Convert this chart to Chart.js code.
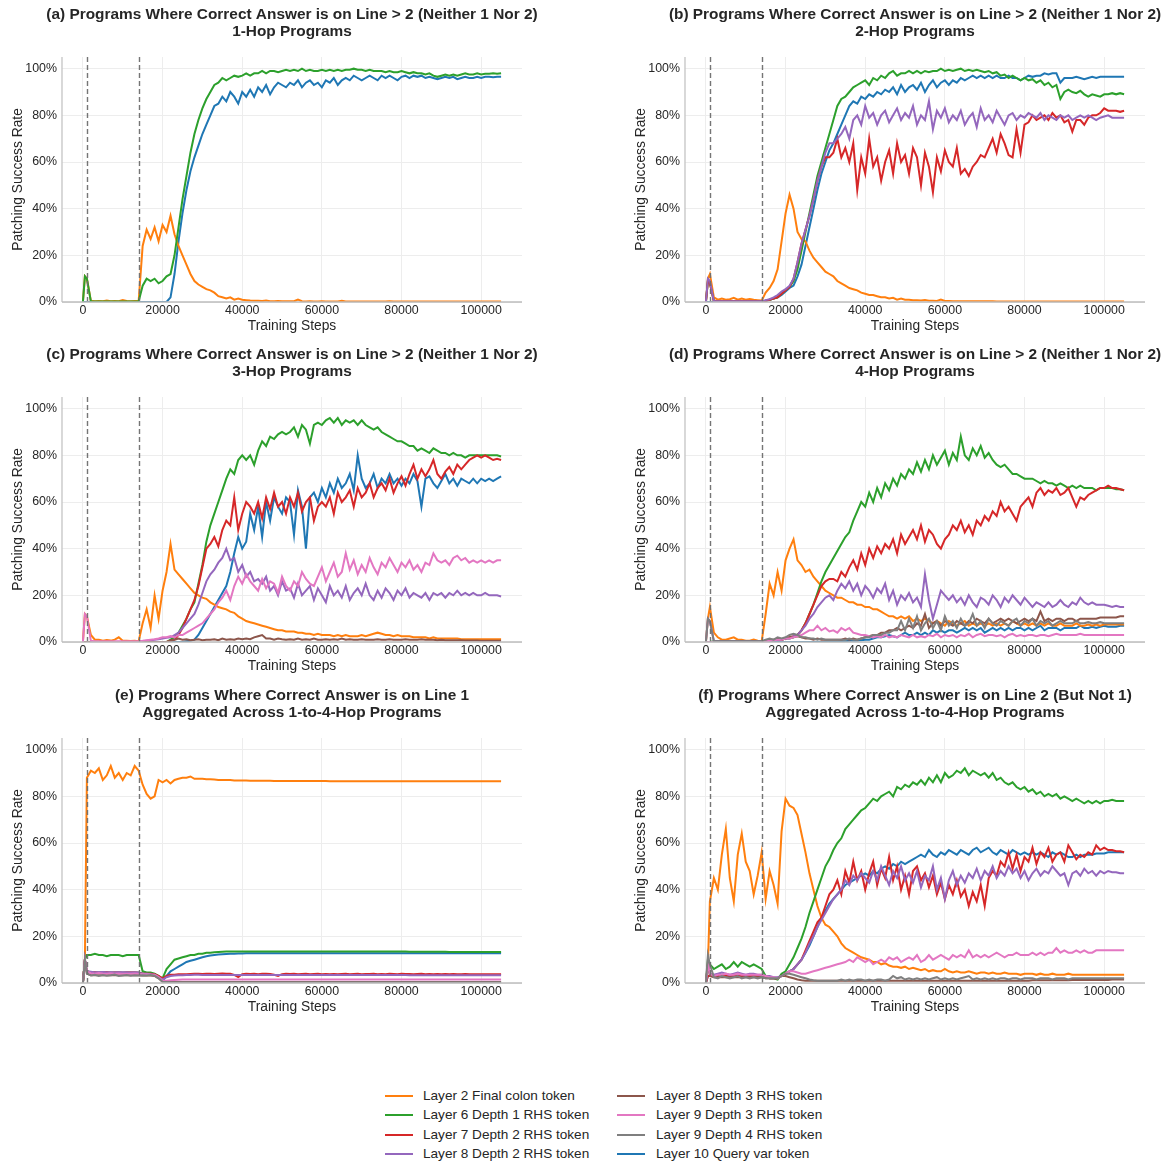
<!DOCTYPE html>
<html>
<head>
<meta charset="utf-8">
<script src="https://cdn.jsdelivr.net/npm/chart.js@4.4.1/dist/chart.umd.min.js"></script>
<style>
html,body{margin:0;padding:0;background:#fff;}
body{width:1168px;height:1163px;overflow:hidden;position:relative;font-family:"Liberation Sans",Arial,sans-serif;}
canvas{position:absolute;}
.li{position:absolute;height:20px;line-height:20px;font-size:13.6px;color:#262626;white-space:nowrap;}
.ln{position:absolute;width:28px;height:2px;}
#err{position:absolute;left:10px;top:1040px;color:red;font-size:12px;}
</style>
</head>
<body>
<canvas id="ca" width="544" height="340" style="left:0px;top:0px"></canvas>
<canvas id="cb" width="544" height="340" style="left:623px;top:0px"></canvas>
<canvas id="cc" width="544" height="340" style="left:0px;top:340px"></canvas>
<canvas id="cd" width="544" height="340" style="left:623px;top:340px"></canvas>
<canvas id="ce" width="544" height="340" style="left:0px;top:681px"></canvas>
<canvas id="cf" width="544" height="340" style="left:623px;top:681px"></canvas>
<div id="legend"></div>
<div id="err"></div>
<script>
// ---------- x positions (training steps) ----------
const steps = [0,500,1000,
2000,3000,4000,5000,6000,7000,8000,9000,10000,11000,
12000,13000,14000,15000,16000,17000,18000,19000,20000,21000,
22000,23000,24000,25000,26000,27000,28000,29000,30000,31000,
32000,33000,34000,35000,36000,37000,38000,39000,40000,41000,
42000,43000,44000,45000,46000,47000,48000,49000,50000,51000,
52000,53000,54000,55000,56000,57000,58000,59000,60000,61000,
62000,63000,64000,65000,66000,67000,68000,69000,70000,71000,
72000,73000,74000,75000,76000,77000,78000,79000,80000,81000,
82000,83000,84000,85000,86000,87000,88000,89000,90000,91000,
92000,93000,94000,95000,96000,97000,98000,99000,100000,101000,
102000,103000,104000,105000];

const xTickValues = [0,20000,40000,60000,80000,100000];
const yTickValues = [0,20,40,60,80,100];
const phaseLines = [1000,14000];

const seriesNames = ['Layer 2 Final colon token','Layer 6 Depth 1 RHS token','Layer 7 Depth 2 RHS token','Layer 8 Depth 2 RHS token','Layer 8 Depth 3 RHS token','Layer 9 Depth 3 RHS token','Layer 9 Depth 4 RHS token','Layer 10 Query var token'];
const seriesKeys = ['orange','green','red','purple','brown','pink','gray','blue'];
const seriesColors = ['#ff7f0e','#2ca02c','#d62728','#9467bd','#8c564b','#e377c2','#7f7f7f','#1f77b4'];

const titlesA = ['(a) Programs Where Correct Answer is on Line > 2 (Neither 1 Nor 2)','1-Hop Programs'];
const titlesB = ['(b) Programs Where Correct Answer is on Line > 2 (Neither 1 Nor 2)','2-Hop Programs'];
const titlesC = ['(c) Programs Where Correct Answer is on Line > 2 (Neither 1 Nor 2)','3-Hop Programs'];
const titlesD = ['(d) Programs Where Correct Answer is on Line > 2 (Neither 1 Nor 2)','4-Hop Programs'];
const titlesE = ['(e) Programs Where Correct Answer is on Line 1','Aggregated Across 1-to-4-Hop Programs'];
const titlesF = ['(f) Programs Where Correct Answer is on Line 2 (But Not 1)','Aggregated Across 1-to-4-Hop Programs'];

// ---------- (a) 1-Hop ----------
const a_orange = [0,11,10,
0.5,0.3,0.4,0.3,0.6,0.3,0.4,0.3,0.8,0.4,
0.3,0.4,0.5,24,31,27,32,26,33,30,
37,29,24,20,16,12,9,7.5,6.5,5.5,
5,4,2.5,2,1.5,2,1,1.5,1,0.8,
0.6,0.5,0.5,0.4,0.6,0.3,0.3,0.4,0.3,0.3,
0.3,0.3,1,0.3,0.2,0.3,0.2,0.2,0.3,0.2,
0.2,0.2,0.2,0.5,0.2,0.2,0.2,0.2,0.2,0.2,
0.2,0.2,0.2,0.2,0.2,0.3,0.2,0.2,0.2,0.2,
0.2,0.2,0.2,0.2,0.2,0.2,0.2,0.2,0.2,0.2,
0.2,0.2,0.2,0.2,0.2,0.2,0.2,0.2,0.2,0.2,
0.2,0.2,0.2,0.2];
const a_green = [0,11,10,
0.2,0.2,0.2,0.2,0.2,0.2,0.2,0.2,0.2,0.2,
0.2,0.2,0.3,7,10,9,10,8,9,11,
12,20,32,44,54,64,72,78,83,87,
90,93,94,96,95,96,97,96.5,97,98,
97,98,98,99,98,99,99,98.5,99,99.5,
99,99.5,99,100,99,99.5,99,99,99.5,99,
99.5,99,99.5,99,99.5,99.5,100,99.5,99.5,99,
99.5,99,99,99,98.5,99,98.5,98.5,99,98.5,
98,98.5,98,98,97.5,98,97,96.5,97,97.5,
97,97.5,97,97.5,98,97.5,97.5,98,97.5,97.8,
97.8,98,97.8,98];
const a_blue = [0,0,0,
0,0,0,0,0,0,0,0,0,0,
0,0,0,0,0,0,0,0,0,0,
2,12,26,38,48,56,62,67,72,76,
80,84,85,88,86,90,88,85,90,88,
91,88,92,90,93,89,92,94,93,92,
94,93,95,92,94,95,93,94,92,95,
94,96,93,95,96,95,97,96,95,96,
97,96,95,97,96,97,96,95,96.5,97,
96,97,96.5,97,96,96.5,96,95.5,96,96.5,
96,96.5,95.5,96,96.5,96,96,96.5,96,96.5,
96.5,96.3,96.5,96.5];

// ---------- (b) 2-Hop ----------
const b_orange = [0,10,12,
2,1,1.5,1,1.2,1.8,1,1.5,1,1.3,
1,0.8,0.6,4,6,9,14,26,38,46,
40,30,27,26,22,19,17,15,13,12,
11,9,8,7,6,5.5,5,4,3.5,3,
3,2.5,2,2,1.5,1.8,1,1.5,1,1,
0.8,0.8,0.6,0.8,0.5,0.5,0.4,1,0.4,0.4,
0.3,0.3,0.3,0.3,0.3,0.3,0.3,0.3,0.3,0.3,
0.3,0.2,0.2,0.2,0.2,0.2,0.2,0.2,0.2,0.2,
0.2,0.2,0.2,0.2,0.2,0.2,0.2,0.2,0.2,0.2,
0.2,0.2,0.2,0.2,0.2,0.2,0.2,0.2,0.2,0.2,
0.2,0.2,0.2,0.2];
const b_green = [0,9,8,
0.3,0.3,0.3,0.3,0.3,0.3,0.3,0.3,0.3,0.3,
0.3,0.3,0.3,0.5,1,1.5,2,3.5,5,6.5,
9,14,22,30,38,46,54,60,66,72,
78,84,87,88,90,92,93,94,95,93,
96,95,97,96,98,99,97,98,98,99,
98,99,98,99,98.5,99,99,100,99,99.5,
99,99.5,100,99,99.5,99,99.5,99,98.5,99,
98,98.5,97,97.5,96,97,96,95,96,95,
95.5,94,95,93,94,92,93,87,90,91,
90,89.5,90.5,89,88,89,88.5,88,89,89,
89.5,89,89.5,89];
const b_red = [0,9,8,
0.3,0.3,0.3,0.3,0.3,0.3,0.3,0.3,0.3,0.3,
0.3,0.3,0.3,0.5,1,1.5,2,3.5,5,6.5,
10,17,25,31,37,44,52,58,62,62,
64,70,62,66,60,68,48,62,55,70,
58,62,52,60,65,55,68,60,63,55,
66,62,50,64,58,47,62,56,65,60,
58,66,55,57,54,58,60,63,62,66,
70,64,72,68,63,62,74,64,76,77,
80,78,79,80,78,81,79,80,77,78,
73,78,78,76,79,80,80,81,83,82,
82,82,81.5,82];
const b_purple = [0,10,9,
0.3,0.3,0.3,0.3,0.3,0.3,0.3,0.3,0.3,0.3,
0.3,0.3,0.3,0.8,1.2,2,3,4.5,5.5,7,
10,17,25,31,37,44,52,58,64,68,
68,70,72,75,70,78,80,76,84,79,
81,76,80,82,77,80,83,78,81,79,
84,76,80,78,86,74,82,79,83,77,
80,78,82,76,79,81,75,83,78,80,
77,82,79,76,80,81,78,80,79,81,
80,79,81,78,80,79,78,80,79,80,
78,79,80,79,80,79,78,79,79.5,80,
79,79,79,79];
const b_blue = [0,0,0,
0,0,0,0,0,0,0,0,0,0,
0,0,0,0.5,1,1.5,2,3,4.5,6,
7,11,16,24,32,40,48,55,60,65,
68,72,76,80,84,86,85,88,87,89,
88,90,89,91,90,92,89,93,90,92,
93,91,94,90,93,95,92,94,95,93,
95,94,96,95,96,97,96,97,96,97,
96,97,96,96,97,96,96,95,96,97,
96.5,97,97,98,97.5,98,98,94,96,96,
96,96.5,96,95.5,96,96.5,96,96.5,96.5,96.5,
96.5,96.5,96.5,96.5];

// ---------- (c) 3-Hop ----------
const c_orange = [0,12,11,
3,1,1,0.5,0.8,0.6,1,2,0.5,0.5,
0.4,0.5,0.3,8,14,6,20,10,22,30,
42,31,29,27,25,23,21,20,19,18.5,
17,16,15,14.5,14,13,12.5,11,10,9,
8.5,8,7.5,7,6.5,6,5.5,5,5,4.5,
4.5,4.5,4,4,3.5,3.5,3,3.5,3,3,
3,2.5,3,2.5,3,2.5,2.5,2.5,3,2.5,
3,3.5,4,3.5,3,3,2.5,3,2.5,2.5,
2.5,2,2,2,2,1.5,2,1.5,1.5,1.5,
1.5,1.5,1.5,1.2,1.2,1.2,1.2,1.2,1.2,1.2,
1.2,1.2,1.2,1.2];
const c_green = [0,0,0,
0,0,0,0,0,0,0,0,0,0,
0,0,0,0,0,0,0,0,0,0,
1,2,4,7,10,14,17,25,33,43,
50,55,60,65,70,74,72,78,80,78,
80,76,82,86,84,88,87,89,90,89,
90,92,88,93,91,85,93,94,93,95,
96,94,96,93,95,94,95,93,95,93,
92,91,92,90,89,88,87,86,86,85,
84,84,82,83,82,81,83,82,81,81,
80,81,80,80,79,80,80,80,80,80,
80,80,80,79.5];
const c_red = [0,0,0,
0,0,0,0,0,0,0,0,0,0,
0,0,0,0,0,0,0,0,0,0,
0.5,1,3,6,10,14,18,24,32,40,
42,45,41,48,52,50,62,48,55,60,
58,55,60,53,62,57,64,58,60,55,
62,58,64,56,60,62,52,58,60,58,
62,55,64,60,62,65,58,66,62,64,
68,62,66,68,65,70,64,68,71,67,
72,76,70,74,71,74,78,72,70,73,
75,72,76,74,76,78,79,80,79,80,
79,78,78.5,78];
const c_purple = [0,0,0,
0,0,0,0,0,0,0,0,0,0,
0,0,0,0.3,0.5,0.7,1,1.2,1.5,1.8,
2,3,4,6,8,10,12,16,21,26,
29,31,34,36,40,35,36,30,33,28,
30,26,27,25,28,22,24,20,26,22,
23,19,25,20,22,24,18,23,20,17,
24,20,22,19,24,18,21,23,20,25,
20,18,22,19,23,21,18,22,20,23,
19,21,20,19,21,18,21,20,21,19,
21,20,22,20,21,20,21,20,20,21,
20,20,20,19.5];
const c_brown = [0,0,0,
0,0,0,0,0,0,0,0,0,0,
0,0,0,0,0,0,0,0,0,0,
0.5,1,1.5,1,1.2,0.8,1,1.2,0.8,1,
1,1.2,0.8,1.5,1,1.2,1,1.5,1.2,1.5,
1.2,2,2.5,3,1.5,1.5,1,1.5,1.2,1,
1.2,1,1.5,1,1.2,1,1.5,1,1,1.2,
1,1.2,1,1.5,1,1.2,1,1,1.2,1,
1,1,1.2,1,1,1.2,1,1,1,1.2,
1,1,1,1.2,1,1,1,0.8,1,0.8,
0.8,0.8,0.8,0.8,0.6,0.6,0.6,0.6,0.5,0.5,
0.5,0.5,0.5,0.5];
const c_pink = [0,12,11,
0.5,0.3,0.3,0.3,0.3,0.3,0.3,0.3,0.3,0.3,
0.3,0.3,0.3,0.5,0.8,1,1.2,1.5,2,2,
2.5,2,3,3,4,5,6,7,8,10,
12,14,17,19,22,18,24,28,25,29,
26,24,22,27,23,26,25,21,28,24,
22,26,24,30,27,25,24,28,32,26,
30,34,28,30,38,31,35,29,33,30,
36,32,29,34,32,36,33,30,34,32,
35,31,33,30,34,33,38,35,34,35,
33,36,37,35,36,34,35,34,35,34,
35,34,35,35];
const c_blue = [0,0,0,
0,0,0,0,0,0,0,0,0,0,
0,0,0,0,0,0,0,0,0,0,
0,0,0,0,0.3,0.5,1,3,6,9,
12,15,18,21,24,30,38,45,40,43,
55,48,58,45,60,52,62,58,55,62,
60,46,65,58,40,62,64,60,66,62,
68,64,70,66,68,72,65,80,70,66,
68,72,66,70,68,72,68,70,67,70,
68,72,69,58,70,71,68,66,69,72,
68,70,67,70,69,68,70,68,70,69,
70,69,70,71];

// ---------- (d) 4-Hop ----------
const d_orange = [0,10,15,
4,2,1,1,1.5,2,1,1,0.5,0.5,
1,0.5,0.3,12,25,20,30,22,35,40,
44,35,33,30,31,28,26,24,22,21,
20,19,19,18,17,17,16,16,15,15,
14,14,13,12,11,11,10,11,10,11,
9,10,9,10,9,8,9,8,7,9,
8,7,8,9,7,8,7,8,7,8,
7,8,7,8,7,9,8,7,8,7,
8,7,8,7,8,7,7,8,7,7,
7,8,7,7,7.5,7,7.5,7,7.5,7.5,
7.5,7.5,7.5,7.5];
const d_green = [0,0,0,
0.3,0.3,0.3,0.3,0.3,0.3,0.3,0.3,0.3,0.3,
0.3,0.3,0.3,0.5,0.5,0.8,1,1,1.5,1.5,
2,3,5,8,12,16,21,26,30,33,
36,39,42,45,47,52,56,60,58,64,
60,66,62,68,65,70,67,72,70,74,
72,77,73,78,74,80,76,79,82,76,
81,78,88,80,78,83,80,84,79,81,
78,76,75,76,74,72,72,71,70,70,
70,69,68,69,68,68,67,68,67,66,
67,66,67,66,66,66,65,66,66,66,
66,65.5,65.5,65];
const d_red = [0,0,0,
0,0,0,0,0,0,0,0,0,0,
0,0,0,0.3,0.5,0.8,1,1,1.5,2,
2.5,3,5,8,12,16,20,24,26,27,
27,26,30,28,32,35,31,38,33,40,
36,41,38,42,40,44,38,46,42,45,
48,44,50,43,48,46,42,40,44,46,
50,48,52,47,50,46,52,50,54,52,
56,54,60,56,58,55,52,58,60,62,
58,64,66,63,65,64,66,63,64,66,
62,58,62,61,63,64,65,66,66,67,
66,66,65.5,65];
const d_purple = [0,10,9,
0.3,0.3,0.3,0.3,0.3,0.3,0.3,0.3,0.3,0.3,
0.3,0.3,0.3,0.5,0.5,0.8,1,1,1.5,1.5,
2.5,3,5,7,10,12,15,17,19,20,
18,22,25,23,26,22,25,20,24,22,
19,23,21,25,18,22,16,20,18,21,
17,19,15,29,18,10,16,22,20,18,
20,17,19,16,20,17,15,19,18,16,
20,18,15,19,17,20,18,16,19,17,
15,17,16,15,17,15,16,18,16,15,
17,16,19,17,16,17,16,16,16,15.5,
15,15.5,15,15];
const d_brown = [0,0,0,
0,0,0,0,0,0,0,0,0,0,
0,0,0,0.5,1,1,1.5,1,1.5,2,
2,2.5,2,1.5,1.5,1,1.5,1,1,1,
1,1,1,1.5,1,1.5,1,1.5,2,2.5,
3,3,4,4,5,5,6,5,6,7,
6,8,7,12,6,8,9,7,9,8,
7,9,8,7,9,8,10,9,8,10,
8,9,10,9,10,9,8,9,10,9,
10,9,13,9,10,9,10,10,9,10,
10,9,10,10,10,10,10,10.5,10.5,10.5,
10.5,10.5,11,11];
const d_pink = [0,0,0,
0,0,0,0,0,0,0,0,0,0,
0,0,0,0.3,0.5,0.8,1,1,1.5,1.5,
2,2.5,3,4,5,5,7,5,6,4.5,
5,4,6,5,6,4,3.5,3,3,2.5,
2,2.5,2,3,2,2.5,2,3,2.5,2,
3,2,2.5,2,3,2.5,3.5,2,3,2.5,
3,2,3,2.5,3.5,2,3,3.5,2.5,3,
3,2.5,3,2,3,3.5,2.5,3,2.5,3,
3,2.5,3,3,2.5,3,3.5,3,3,3,
3,3,3.5,3,3,3,3,3,3,3,
3,3,3,3];
const d_gray = [0,10,9,
0.3,0.3,0.3,0.3,0.3,0.3,0.3,0.3,0.3,0.3,
0.3,0.3,0.3,1,1.5,1,2,1.5,2,3,
3.5,3,2,2,1.5,1.5,1,1.5,1,1,
1,1,1,1,1.5,1,1,1.5,2,2,
3,3,3,4,4,5,5,9,5,10,
6,11,5,8,10,6,9,5,11,7,
9,6,10,7,8,12,7,9,6,10,
8,7,9,8,7,9,10,7,9,8,
10,7,9,8,9,7,8,9,8,8,
8,9,8,8,8.5,8,8,8.5,8,8,
8,8,8,8];
const d_blue = [0,0,0,
0,0,0,0,0,0,0,0,0,0,
0,0,0,0,0,0,0,0,0,0,
0,0,0,0,0,0,0,0,0,0,
0,0,0.3,0.3,0.5,0.5,0.5,0.8,1,1,
1.5,2,2,2.5,3,2.5,2,3,4,3,
3,4,3,4,3,5,4,5,4,5,
5,4,5,6,5,6,5,6,4,5,
6,5,6,5,6,5,6,6,5,6,
5,6,7,5,6,6,6,5,6,6,
6,6,7,6,6,6.5,6,6.5,7,6.5,
6.5,6.5,7,7];

// ---------- (e) Line 1 ----------
const e_orange = [0,10,88,
91,90,92,87,89,93,88,90,87,90,
89,93,91,85,81,79,80,87,86,87,
85.5,87,87.5,88,88,88.5,87.5,87.5,87.5,87.3,
87.3,87.2,87,87,87,87,86.8,86.8,86.8,86.8,
86.7,86.7,86.7,86.7,86.7,86.7,86.6,86.6,86.6,86.6,
86.6,86.6,86.6,86.6,86.6,86.6,86.6,86.6,86.6,86.6,
86.5,86.5,86.5,86.5,86.5,86.5,86.5,86.5,86.5,86.5,
86.5,86.5,86.5,86.5,86.5,86.5,86.5,86.5,86.5,86.5,
86.5,86.5,86.5,86.5,86.5,86.5,86.5,86.5,86.5,86.5,
86.5,86.5,86.5,86.5,86.5,86.5,86.5,86.5,86.5,86.5,
86.5,86.5,86.5,86.5];
const e_green = [0,10,12,
12,12.5,12,12,11.5,12,12,12,11.5,12,
12,12,12,5,4.5,4.5,4,3,2,6,
8,10,10.5,11,11.5,12,12,12.5,12.5,13,
13,13.2,13.3,13.4,13.5,13.5,13.5,13.5,13.5,13.5,
13.5,13.5,13.5,13.5,13.5,13.5,13.5,13.5,13.5,13.5,
13.5,13.5,13.5,13.5,13.5,13.5,13.5,13.5,13.5,13.5,
13.5,13.5,13.5,13.5,13.5,13.5,13.5,13.5,13.5,13.5,
13.5,13.5,13.5,13.5,13.5,13.5,13.5,13.5,13.5,13.5,
13.4,13.4,13.4,13.4,13.4,13.4,13.4,13.4,13.4,13.4,
13.3,13.3,13.3,13.3,13.3,13.3,13.3,13.3,13.3,13.3,
13.3,13.3,13.3,13.3];
const e_red = [0,10,5,
4.5,4.6,4.4,4.5,4.6,4.4,4.5,4.5,4.4,4.5,
4.5,4.5,4.4,4,4,4,3.8,3,2,3,
3.5,3.5,3.8,3.7,3.8,3.9,4,4,3.9,4,
4,3.9,4,4.1,4,4,3.5,2.5,3.8,4,
3.9,4,3.8,4,4,3.9,3.5,3,3.8,4,
3.9,4,3.8,3.9,4,3.8,3.9,4,3.8,3.9,
3.8,3.9,3.8,3.9,4,3.8,3.9,4,3.8,3.9,
3.9,4,3.8,3.9,3.8,4,3.9,3.8,4,3.9,
3.9,3.8,3.9,4,3.8,3.9,3.8,3.9,3.8,3.9,
3.8,3.9,3.8,3.8,3.9,3.8,3.8,3.8,3.8,3.8,
3.8,3.8,3.8,3.8];
const e_purple = [0,10,5,
4.8,4.5,4.6,4.7,4.5,4.6,4.4,4.6,4.5,4.5,
4.4,4.5,4.3,4,4,3.8,3.5,2.5,1.5,2.5,
3,3.2,3.3,3.3,3.4,3.4,3.5,3.5,3.4,3.4,
3.4,3.4,3.4,3.4,3.4,3.4,3.4,3.4,3.4,3.4,
3.4,3.4,3.4,3.4,3.4,3.4,3.4,3.4,3.4,3.4,
3.4,3.4,3.4,3.4,3.4,3.4,3.4,3.4,3.4,3.4,
3.4,3.4,3.4,3.4,3.4,3.4,3.4,3.4,3.4,3.4,
3.4,3.4,3.4,3.4,3.4,3.4,3.4,3.4,3.4,3.4,
3.3,3.3,3.3,3.3,3.3,3.3,3.3,3.3,3.3,3.3,
3.3,3.3,3.3,3.3,3.3,3.3,3.3,3.3,3.3,3.3,
3.3,3.3,3.3,3.3];
const e_brown = [0,10,4,
3.3,3.3,3.3,3.3,3.3,3.3,3.3,3.3,3.3,3.3,
3.3,3.3,3.3,3.2,3.2,3.2,3,2,0.5,0.5,
0.4,0.4,0.4,0.4,0.4,0.4,0.4,0.4,0.4,0.4,
0.4,0.4,0.4,0.4,0.4,0.4,0.4,0.4,0.4,0.4,
0.4,0.4,0.4,0.4,0.4,0.4,0.4,0.4,0.4,0.4,
0.4,0.4,0.4,0.4,0.4,0.4,0.4,0.4,0.4,0.4,
0.4,0.4,0.4,0.4,0.4,0.4,0.4,0.4,0.4,0.4,
0.4,0.4,0.4,0.4,0.4,0.4,0.4,0.4,0.4,0.4,
0.4,0.4,0.4,0.4,0.4,0.4,0.4,0.4,0.4,0.4,
0.4,0.4,0.4,0.4,0.4,0.4,0.4,0.4,0.4,0.4,
0.4,0.4,0.4,0.4];
const e_pink = [0,10,5,
4.2,4,4.3,4.1,4,4.2,4,4.1,4,4,
4,4.1,4,3.8,3.8,3.6,3.5,2.5,1,1,
1.2,1.3,1.4,1.5,1.5,1.5,1.5,1.5,1.5,1.5,
1.5,1.5,1.5,1.5,1.5,1.5,1.5,1.5,1.5,1.5,
1.5,1.5,1.5,1.5,1.5,1.5,1.5,1.5,1.5,1.5,
1.5,1.5,1.5,1.5,1.5,1.5,1.5,1.5,1.5,1.5,
1.5,1.5,1.5,1.5,1.5,1.5,1.5,1.5,1.5,1.5,
1.5,1.5,1.5,1.5,1.5,1.5,1.5,1.5,1.5,1.5,
1.5,1.5,1.5,1.5,1.5,1.5,1.5,1.5,1.5,1.5,
1.5,1.5,1.5,1.5,1.5,1.5,1.5,1.5,1.5,1.5,
1.5,1.5,1.5,1.5];
const e_gray = [0,10,4,
3.2,3.5,3,3.4,3.1,3.3,3.6,3,3.2,3.4,
3.1,3.3,3.2,3.3,3.2,3.4,3.1,2,0.5,0.4,
0.3,0.3,0.3,0.3,0.3,0.3,0.3,0.3,0.3,0.3,
0.3,0.3,0.3,0.3,0.3,0.3,0.3,0.3,0.3,0.3,
0.3,0.3,0.3,0.3,0.3,0.3,0.3,0.3,0.3,0.3,
0.3,0.3,0.3,0.3,0.3,0.3,0.3,0.3,0.3,0.3,
0.3,0.3,0.3,0.3,0.3,0.3,0.3,0.3,0.3,0.3,
0.3,0.3,0.3,0.3,0.3,0.3,0.3,0.3,0.3,0.3,
0.3,0.3,0.3,0.3,0.3,0.3,0.3,0.3,0.3,0.3,
0.3,0.3,0.3,0.3,0.3,0.3,0.3,0.3,0.3,0.3,
0.3,0.3,0.3,0.3];
const e_blue = [0,10,5,
4.5,4.5,4.5,4.5,4.5,4.5,4.5,4.5,4.5,4.5,
4.5,4.5,4.5,4,4,4,3.8,3,1,3,
5,6,7,8,9,9.5,10,10.5,11,11.5,
11.8,12,12.2,12.3,12.4,12.5,12.5,12.6,12.6,12.7,
12.7,12.7,12.7,12.7,12.7,12.7,12.7,12.7,12.7,12.7,
12.8,12.8,12.8,12.8,12.8,12.8,12.8,12.8,12.8,12.8,
12.8,12.8,12.8,12.8,12.8,12.8,12.8,12.8,12.8,12.8,
12.8,12.8,12.8,12.8,12.8,12.8,12.8,12.8,12.8,12.8,
12.8,12.8,12.8,12.8,12.8,12.8,12.8,12.8,12.8,12.8,
12.8,12.8,12.8,12.8,12.8,12.8,12.8,12.8,12.8,12.8,
12.8,12.8,12.8,12.8];

// ---------- (f) Line 2 ----------
const f_orange = [0,8,35,
45,40,55,66,45,35,55,64,52,48,
38,46,56,36,48,42,34,65,79,76,
75,72,64,56,47,40,33,28,25,24,
22,20,17,15,14,13,12,11,10.5,10,
9,9,8,8.5,7.5,7,7,6.5,7,6,
6.5,6,5.5,6,5,5.5,5,5,6,5,
4.5,5,4.5,4.5,5,4.5,4,4.5,4.5,4,
4.5,4,4,4.5,4,4,4,3.5,4,4,
4,3.5,4,3.5,3.5,4,3.5,3.5,3.5,4,
3.5,3.5,3.5,3.5,3.5,3.5,3.5,3.5,3.5,3.5,
3.5,3.5,3.5,3.5];
const f_green = [0,10,8,
6,7,8,6,7,9,7,9,8,7,
8,7,6,3,2,2,1.5,4,5,8,
11,15,19,24,30,35,40,45,50,53,
57,60,62,66,68,70,72,74,75,77,
79,78,80,81,82,80,84,83,85,84,
86,85,87,85,88,86,89,86,90,88,
89,91,90,92,89,91,90,89,90,88,
90,87,88,86,85,86,84,83,84,82,
83,81,82,80,81,80,81,79,80,79,
78,79,78,77,78,77,78,77,78,78,
78.5,78,78,78];
const f_red = [0,3,3,
3,3,3,3,3,3,3,3,3,3,
3,3,3,2.5,2,2,2,3,4,5,
6,8,10,14,18,22,26,28,33,38,
40,44,38,48,43,52,44,48,40,47,
52,42,49,45,54,44,50,40,46,38,
48,50,44,47,41,46,38,43,36,42,
38,44,37,40,33,39,35,42,33,45,
48,46,52,50,56,49,55,48,54,52,
58,51,56,54,58,52,55,56,52,59,
56,53,55,54,56,55,59,57,58,57,
57,56.5,56.5,56];
const f_purple = [0,8,4,
3.5,4,4.5,4,3.5,4,4.5,4,3.5,4,
4,3.5,3.5,3,3,2.5,2.5,3,4,5,
6,8,10,13,17,20,24,27,30,33,
36,38,40,44,42,46,44,47,45,43,
48,44,50,46,42,48,45,50,44,47,
43,48,41,46,44,50,40,45,36,44,
48,42,46,43,47,45,49,44,48,46,
50,45,48,46,50,47,49,45,48,44,
47,49,46,48,47,50,48,46,47,42,
47,48,46,49,47,48,46,48,47,48,
47.5,47.5,47,47];
const f_brown = [0,8,3,
2.5,2.5,2.5,2.5,2.5,2.5,2.5,2.5,2.5,2.5,
2.5,2.5,2.5,2,2,2,2,3,3,2.5,
2,1.5,1.2,1,1,1,1,1,1,1,
1,1,1,1,1,1,1,1,1,1,
1,1,1,1,1,1,1,1,1,1,
1,1,1,1,1,1,1,1,1,1,
1,1,1,1,1,1,1,1,1,1,
1,1,1,1,1,1,1,1,1,1,
1.2,1.2,1.2,1.2,1.2,1.2,1.2,1.2,1.2,1.2,
1.3,1.3,1.3,1.3,1.3,1.3,1.3,1.3,1.3,1.3,
1.5,1.5,1.5,1.5];
const f_pink = [0,8,4,
3,3.5,3.5,4,3.5,3.5,4,3.5,3.5,3.5,
3.5,3.5,3.5,3,2.5,2.5,2,3,4,5,
5,4.5,4,4,4.5,5,5.5,6,6.5,7,
7.5,8,8.5,9,10,9,11,10,9,10,
8,9,10,9,11,10,11,9,10,11,
10,12,9,10,12,10,11,12,11,10,
12,11,12,11,14,11,12,11,12,11,
12,13,12,11,12,12,13,12,12,12,
13,12,13,12,13,13,15,13,14,13,
13,14,13,14,13,13,14,14,14,14,
14,14,14,14];
const f_gray = [0,12,8,
2.5,2,3,2.5,2,2.5,3,2,2.5,2,
2.5,2,2.5,2,2,2,2,3,4,4,
3.5,3,2.5,2,1.5,1.2,1,1,1,1,
1,1,1.5,1,1.5,1,1.5,1.5,1,1.5,
1,1.5,1.5,1,1.5,3,2,2.5,1.5,2,
1.5,2,1.5,2,1.5,2,2.5,1.5,2,1.5,
2,1.5,2,2.5,3,1.5,2,1.5,2,1.5,
2,1.5,2,2,1.5,2,2,1.5,2,2,
2,1.5,2,2,2,1.5,2,2,2,1.5,
2,2,2,2,2,2,2,2,2,2,
2,2,2,2];
const f_blue = [0,3,3,
3,3,3,3,3,3,3,3,3,3,
3,3,3,2.5,2,2,2,3,4,5,
6,8,10,13,16,20,24,28,31,34,
36,38,40,42,43,44,45,46,47,46,
48,47,49,50,49,51,50,52,51,52,
53,54,55,54,57,55,54,56,55,57,
56,55,57,56,55,57,58,56,57,58,
56,55,57,56,55,57,56,55,56,55,
56,55,56,55,54,56,55,56,55,54,
54,55,54,55,55,55,55.5,55.5,55.5,56,
56,56,56,56];

// ---------- panels ----------
const panels = [
  {id:'ca', titles:titlesA, series:{orange:a_orange, green:a_green, blue:a_blue}},
  {id:'cb', titles:titlesB, series:{orange:b_orange, green:b_green, red:b_red, purple:b_purple, blue:b_blue}},
  {id:'cc', titles:titlesC, series:{orange:c_orange, green:c_green, red:c_red, purple:c_purple, brown:c_brown, pink:c_pink, blue:c_blue}},
  {id:'cd', titles:titlesD, series:{orange:d_orange, green:d_green, red:d_red, purple:d_purple, brown:d_brown, pink:d_pink, gray:d_gray, blue:d_blue}},
  {id:'ce', titles:titlesE, series:{orange:e_orange, green:e_green, red:e_red, purple:e_purple, brown:e_brown, pink:e_pink, gray:e_gray, blue:e_blue}},
  {id:'cf', titles:titlesF, series:{orange:f_orange, green:f_green, red:f_red, purple:f_purple, brown:f_brown, pink:f_pink, gray:f_gray, blue:f_blue}}
];
// Chart.js draws lower "order" on top: blue at the bottom, gray on top
const drawOrder = {orange:7, green:6, red:5, purple:4, brown:3, pink:2, gray:1, blue:8};

const FONT = "'Liberation Sans', Arial, sans-serif";
const TXT = '#262626';
Chart.defaults.font.family = FONT;
Chart.defaults.color = TXT;

const phasePlugin = {
  id:'phase',
  afterDatasetsDraw(chart){
    const {ctx, chartArea:{top,bottom}} = chart;
    const xs = chart.scales.x;
    ctx.save();
    ctx.strokeStyle = 'rgba(110,110,110,0.95)';
    ctx.lineWidth = 1.4;
    ctx.setLineDash([5,3]);
    phaseLines.forEach(v => {
      const px = Math.round(xs.getPixelForValue(v)) + 0.5;
      ctx.beginPath(); ctx.moveTo(px, top); ctx.lineTo(px, bottom); ctx.stroke();
    });
    ctx.restore();
  }
};
const spinePlugin = {
  id:'spines',
  afterDatasetsDraw(chart){
    const {ctx, chartArea:{left,right,top,bottom}} = chart;
    ctx.save();
    ctx.strokeStyle = '#c4c4c4';
    ctx.lineWidth = 1.3;
    ctx.beginPath(); ctx.moveTo(left, top); ctx.lineTo(left, bottom); ctx.stroke();
    ctx.strokeStyle = '#bcbcbc';
    ctx.lineWidth = 1.6;
    ctx.beginPath(); ctx.moveTo(left, bottom); ctx.lineTo(right, bottom); ctx.stroke();
    ctx.restore();
  }
};
const titlePlugin = {
  id:'ptitle',
  afterDraw(chart, args, opts){
    const {ctx, chartArea} = chart;
    const cx = (chartArea.left + chartArea.right) / 2;
    ctx.save();
    ctx.font = 'bold 15.4px ' + FONT;
    ctx.fillStyle = TXT;
    ctx.textAlign = 'center';
    ctx.textBaseline = 'middle';
    (opts.lines || []).forEach((t, i) => ctx.fillText(t, cx, 14.5 + i * 17));
    ctx.restore();
  }
};

const errs = [];
panels.forEach(p => {
  const datasets = [];
  seriesKeys.forEach((k, idx) => {
    const arr = p.series[k];
    if (!arr) return;
    if (arr.length !== steps.length) errs.push(p.id + ' ' + k + ' ' + arr.length);
    datasets.push({
      label: seriesNames[idx],
      data: steps.map((s, i) => ({x: s, y: arr[i]})),
      borderColor: seriesColors[idx],
      backgroundColor: seriesColors[idx],
      borderWidth: 2,
      pointRadius: 0,
      fill: false,
      tension: 0,
      order: drawOrder[k]
    });
  });
  new Chart(document.getElementById(p.id), {
    type: 'line',
    data: {datasets},
    options: {
      responsive: false,
      animation: false,
      devicePixelRatio: 1,
      layout: {padding: {left: 0, right: 22, top: 57, bottom: 3}},
      plugins: {legend: {display: false}, tooltip: {enabled: false}, title: {display: false}, ptitle: {lines: p.titles}},
      scales: {
        x: {
          type: 'linear', min: -5250, max: 110250,
          afterBuildTicks: s => { s.ticks = xTickValues.map(v => ({value: v})); },
          afterFit: s => { s.height = 35; },
          grid: {color: '#ededed', lineWidth: 1, drawTicks: false},
          border: {display: false},
          ticks: {padding: 1, color: TXT, font: {size: 12.4}, maxRotation: 0, autoSkip: false, callback: v => String(v)},
          title: {display: true, text: 'Training Steps', color: TXT, font: {size: 13.8}, padding: {top: 0, bottom: 3}}
        },
        y: {
          type: 'linear', min: 0, max: 105,
          afterBuildTicks: s => { s.ticks = yTickValues.map(v => ({value: v})); },
          afterFit: s => { s.width = 62; },
          grid: {color: '#ededed', lineWidth: 1, drawTicks: false},
          border: {display: false},
          ticks: {padding: 5, color: TXT, font: {size: 12.4}, callback: v => v + '%'},
          title: {display: true, text: 'Patching Success Rate', color: TXT, font: {size: 13.8}, padding: {top: 9.7, bottom: 0}}
        }
      }
    },
    plugins: [phasePlugin, spinePlugin, titlePlugin]
  });
});
if (errs.length) document.getElementById('err').textContent = 'LEN MISMATCH: ' + errs.join('; ');

// ---------- legend ----------
const leg = document.getElementById('legend');
const legLineX = [385, 617], legTextX = [423, 656];
const legRowY = [1095.7, 1115.2, 1134.6, 1154];
seriesNames.forEach((name, i) => {
  const col = i < 4 ? 0 : 1, row = i % 4;
  const ln = document.createElement('div');
  ln.className = 'ln';
  ln.style.left = legLineX[col] + 'px';
  ln.style.top = (legRowY[row] - 1) + 'px';
  ln.style.background = seriesColors[i];
  leg.appendChild(ln);
  const tx = document.createElement('div');
  tx.className = 'li';
  tx.style.left = legTextX[col] + 'px';
  tx.style.top = (legRowY[row] - 10) + 'px';
  tx.textContent = name;
  leg.appendChild(tx);
});
</script>
</body>
</html>
